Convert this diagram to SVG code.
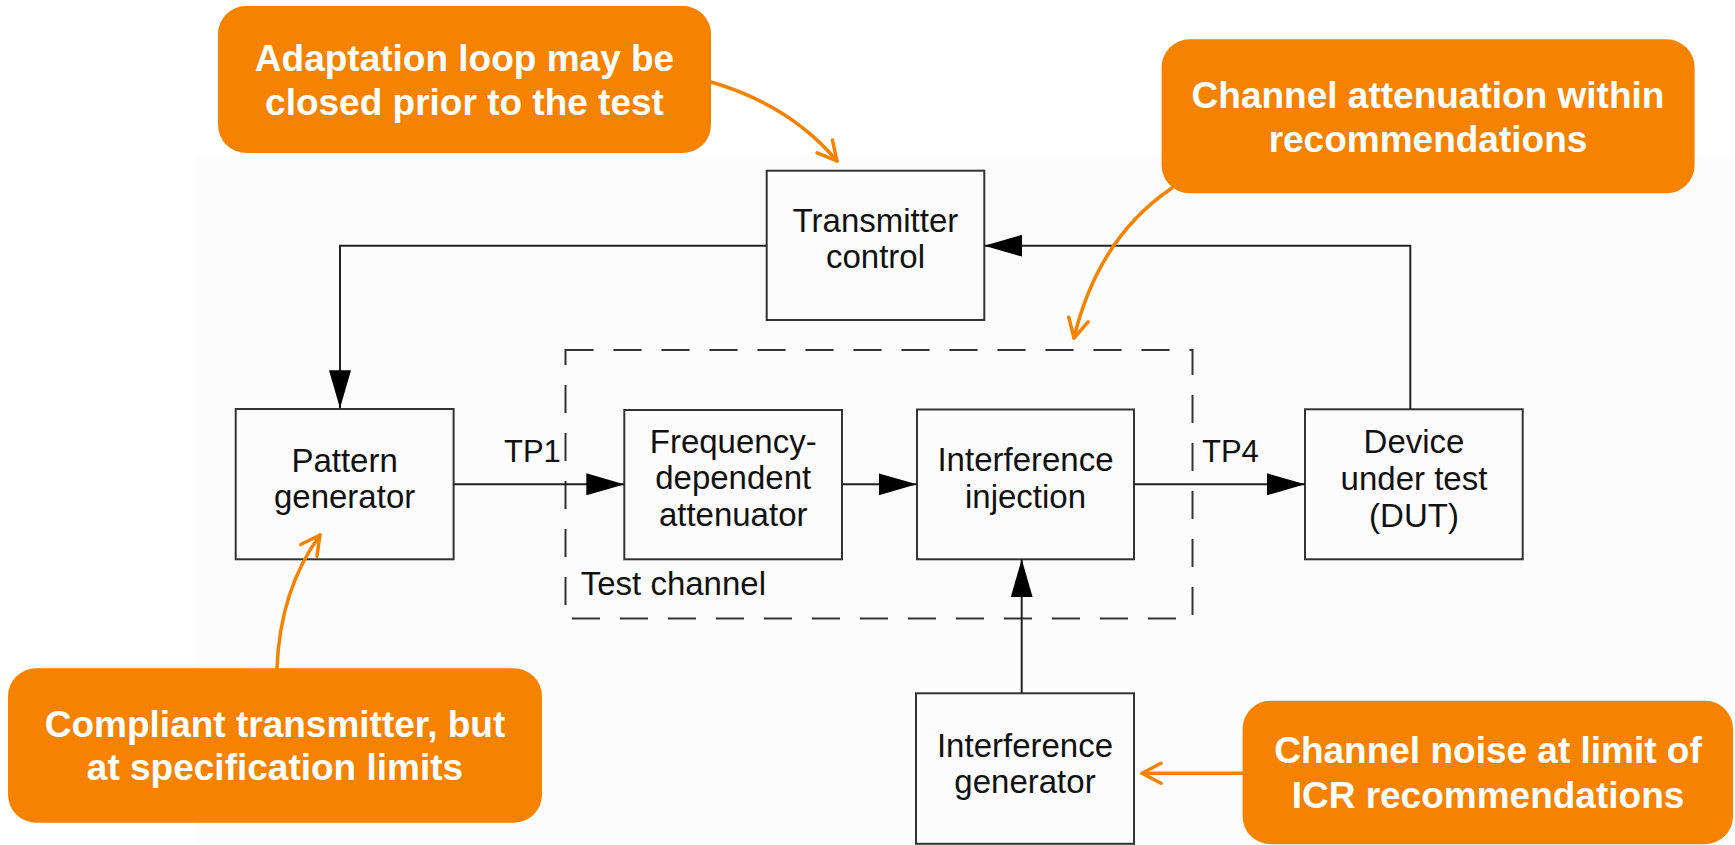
<svg xmlns="http://www.w3.org/2000/svg" width="1735" height="845" viewBox="0 0 1735 845">
<style>
.box{fill:none;stroke:#333;stroke-width:2}
.lbl{font-family:"Liberation Sans",Arial,sans-serif;font-size:33px;fill:#111;text-anchor:middle}
.lbl-l{font-family:"Liberation Sans",Arial,sans-serif;font-size:33px;fill:#111}
.tp{font-family:"Liberation Sans",Arial,sans-serif;font-size:31px;fill:#111}
.wire{fill:none;stroke:#222;stroke-width:2}
.call{fill:#F58200}
.ctext{font-family:"Liberation Sans",Arial,sans-serif;font-size:37px;font-weight:bold;fill:#fff;text-anchor:middle}
.oline{fill:none;stroke:#F58200;stroke-width:3.5;stroke-linecap:round}
</style>
<defs>
<marker id="barrow" viewBox="0 0 38 22" refX="38" refY="11" markerWidth="38" markerHeight="22" orient="auto" markerUnits="userSpaceOnUse">
<path d="M0,0 L38,11 L0,22 z" fill="#000"/>
</marker>
<marker id="oarrow" viewBox="0 0 26 26" refX="22" refY="13" markerWidth="26" markerHeight="26" orient="auto" markerUnits="userSpaceOnUse">
<path d="M3,3 L22,13 L3,23" fill="none" stroke="#F58200" stroke-width="3.5" stroke-linecap="round" stroke-linejoin="round"/>
</marker>
</defs>
<rect x="0" y="0" width="1735" height="845" fill="#fff"/>
<rect x="196" y="156" width="1539" height="689" fill="#FCFCFC"/>

<g id="test-channel">
<rect x="565.5" y="350" width="627" height="268.5" fill="none" stroke="#333" stroke-width="2" stroke-dasharray="28 20"/>
<text class="lbl-l" x="580.7" y="595">Test channel</text>
</g>

<g id="transmitter-control">
<rect class="box" x="766.7" y="170.7" width="217.6" height="149.3"/>
<text class="lbl" x="875.5" y="231.7">Transmitter</text>
<text class="lbl" x="875.5" y="268.3">control</text>
</g>

<g id="pattern-generator">
<rect class="box" x="235.7" y="409" width="217.9" height="150.3"/>
<text class="lbl" x="344.6" y="471.7">Pattern</text>
<text class="lbl" x="344.6" y="508.3">generator</text>
</g>

<g id="freq-attenuator">
<rect class="box" x="624.3" y="410" width="217.7" height="149.3"/>
<text class="lbl" x="733.2" y="453.3">Frequency-</text>
<text class="lbl" x="733.2" y="489.3">dependent</text>
<text class="lbl" x="733.2" y="526">attenuator</text>
</g>

<g id="interference-injection">
<rect class="box" x="917" y="409.5" width="217" height="149.8"/>
<text class="lbl" x="1025.5" y="470.7">Interference</text>
<text class="lbl" x="1025.5" y="508.3">injection</text>
</g>

<g id="dut">
<rect class="box" x="1305" y="409.3" width="217.7" height="150"/>
<text class="lbl" x="1414" y="452.7">Device</text>
<text class="lbl" x="1414" y="490">under test</text>
<text class="lbl" x="1414" y="526.7">(DUT)</text>
</g>

<g id="interference-generator">
<rect class="box" x="916" y="693.3" width="218" height="150.5"/>
<text class="lbl" x="1025" y="756.7">Interference</text>
<text class="lbl" x="1025" y="792.5">generator</text>
</g>

<g id="tp-labels">
<text class="tp" x="504" y="461.7">TP1</text>
<text class="tp" x="1202" y="461.7">TP4</text>
</g>

<g id="connectors">
<path class="wire" d="M766.7,245.7 H340 V408.3" marker-end="url(#barrow)"/>
<path class="wire" d="M1410.3,409.3 V245.7 H984.3" marker-end="url(#barrow)"/>
<path class="wire" d="M453.6,484.3 H624.3" marker-end="url(#barrow)"/>
<path class="wire" d="M842,484.3 H916.7" marker-end="url(#barrow)"/>
<path class="wire" d="M1134,484.3 H1305" marker-end="url(#barrow)"/>
<path class="wire" d="M1021.7,693.3 V559.3" marker-end="url(#barrow)"/>
<path class="oline" d="M711,82 Q790,105 837,161" marker-end="url(#oarrow)"/>
<path class="oline" d="M1172,188 Q1098,238 1074,338" marker-end="url(#oarrow)"/>
<path class="oline" d="M277,668 Q280,590 320,535" marker-end="url(#oarrow)"/>
<path class="oline" d="M1242.6,773.3 H1142" marker-end="url(#oarrow)"/>
</g>

<g id="callout-adaptation">
<rect class="call" x="218" y="6" width="493" height="147" rx="28" ry="28"/>
<text class="ctext" x="464.5" y="71">Adaptation loop may be</text>
<text class="ctext" x="464.5" y="115">closed prior to the test</text>
</g>

<g id="callout-attenuation">
<rect class="call" x="1161.6" y="39.3" width="533" height="154" rx="28" ry="28"/>
<text class="ctext" x="1428" y="108.3">Channel attenuation within</text>
<text class="ctext" x="1428" y="151.7">recommendations</text>
</g>

<g id="callout-compliant">
<rect class="call" x="8" y="668.3" width="534" height="154.4" rx="28" ry="28"/>
<text class="ctext" x="275" y="737.3">Compliant transmitter, but</text>
<text class="ctext" x="275" y="780">at specification limits</text>
</g>

<g id="callout-noise">
<rect class="call" x="1242.6" y="700.7" width="490.4" height="143.5" rx="28" ry="28"/>
<text class="ctext" x="1488" y="763.3">Channel noise at limit of</text>
<text class="ctext" x="1488" y="808.3">ICR recommendations</text>
</g>
</svg>
